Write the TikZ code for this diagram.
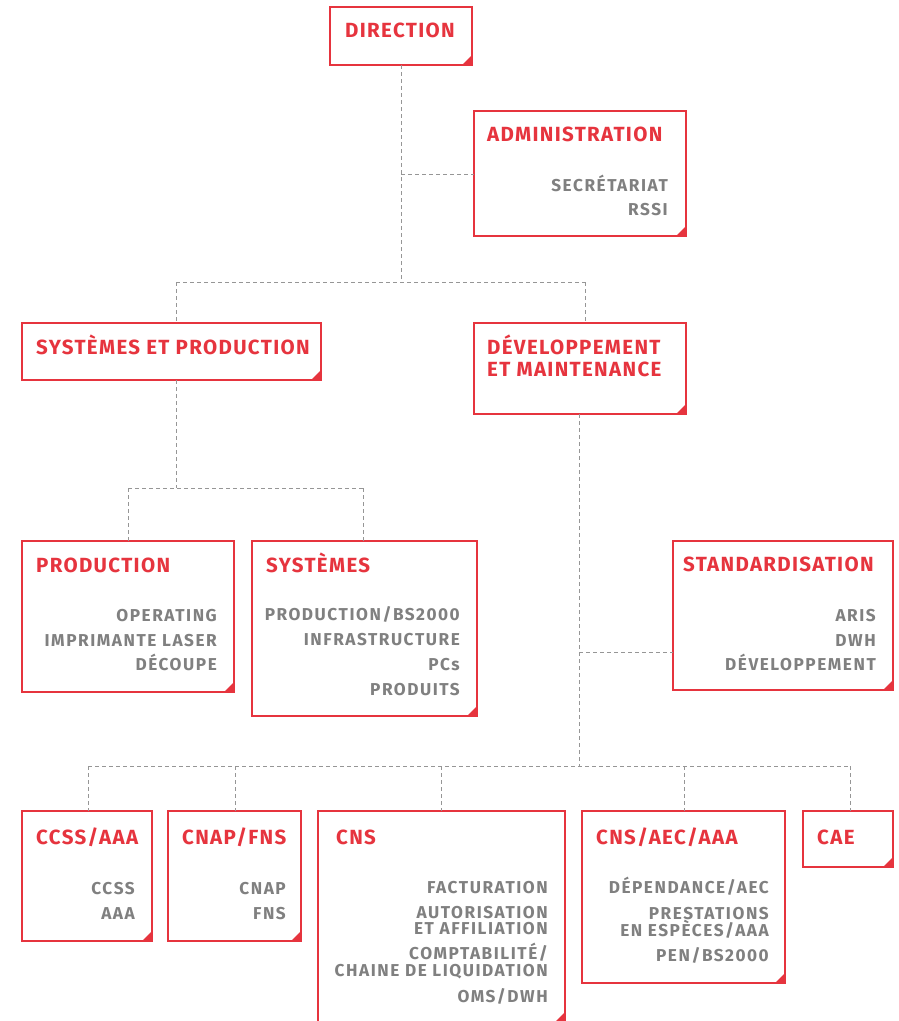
\documentclass[tikz,border=0pt]{standalone}
\usepackage{fontspec}
\setmainfont{Fira Sans}
\newfontfamily\ttlfont[LetterSpace=6.5]{Fira Sans}
\newfontfamily\itmfont[LetterSpace=9]{Fira Sans}
\definecolor{rd}{RGB}{230,52,62}
\definecolor{gt}{RGB}{128,128,128}
\definecolor{ln}{RGB}{150,150,150}
\tikzset{
 box/.style={draw=rd, line width=1.2pt, anchor=north west, inner sep=0pt, outer sep=0pt},
 ttl/.style={anchor=base west, text=rd, font=\ttlfont\bfseries\fontsize{20.5}{20.5}\selectfont, inner sep=0pt},
 itm/.style={anchor=base east, text=gt, font=\itmfont\bfseries\fontsize{17.2}{17.2}\selectfont, inner sep=0pt},
 con/.style={draw=ln, line width=0.9pt, dash pattern=on 4pt off 3pt},
}
\newcommand\boxcorner[1]{\fill[rd] (#1.south east) -- ++(-10,0) -- ++(10,-10) -- cycle;}
\begin{document}
\begin{tikzpicture}[x=1pt,y=-1pt]
\clip (0,0) rectangle (899,1021);
\fill[white] (0,0) rectangle (899,1021);
% boxes
\node[box, minimum width=142pt, minimum height=58pt] (dir) at (330,7) {};
\node[box, minimum width=212pt, minimum height=125pt] (adm) at (474,111) {};
\node[box, minimum width=299pt, minimum height=57pt] (sp) at (22,323) {};
\node[box, minimum width=212pt, minimum height=91pt] (dm) at (474,323) {};
\node[box, minimum width=212pt, minimum height=151pt] (prod) at (22,541) {};
\node[box, minimum width=225pt, minimum height=175pt] (sys) at (252,541) {};
\node[box, minimum width=220pt, minimum height=149pt] (std) at (673,541) {};
\node[box, minimum width=130pt, minimum height=130pt] (ccss) at (22,811) {};
\node[box, minimum width=133pt, minimum height=130pt] (cnap) at (168,811) {};
\node[box, minimum width=247pt, minimum height=211pt] (cns) at (318,811) {};
\node[box, minimum width=203pt, minimum height=172pt] (aec) at (582,811) {};
\node[box, minimum width=90pt, minimum height=56pt] (cae) at (803,811) {};
\foreach \b in {dir,adm,sp,dm,prod,sys,std,ccss,cnap,cns,aec,cae}{\boxcorner{\b}}
% titles
\node[ttl] (tdir) at (345,37) {DIRECTION};
\node[ttl] (tadm) at (487,141) {ADMINISTRATION};
\node[ttl] (tsp) at (36,354) {SYSTÈMES ET PRODUCTION};
\node[ttl] (tdm1) at (487,354) {DÉVELOPPEMENT};
\node[ttl] (tdm2) at (487,376) {ET MAINTENANCE};
\node[ttl] (tprod) at (36,572) {PRODUCTION};
\node[ttl] (tsys) at (266,572) {SYSTÈMES};
\node[ttl] (tstd) at (683,571) {STANDARDISATION};
\node[ttl] (tccss) at (36,844) {CCSS/AAA};
\node[ttl] (tcnap) at (182,844) {CNAP/FNS};
\node[ttl] (tcns) at (336,844) {CNS};
\node[ttl] (taec) at (596,844) {CNS/AEC/AAA};
\node[ttl] (tcae) at (817,844) {CAE};
% items
\node[itm] (a1) at (668,191) {SECRÉTARIAT};
\node[itm] (a2) at (668,215) {RSSI};
\node[itm] (p1) at (217,621) {OPERATING};
\node[itm] (p2) at (217,646) {IMPRIMANTE LASER};
\node[itm] (p3) at (217,670) {DÉCOUPE};
\node[itm] (s1) at (460,620) {PRODUCTION/BS2000};
\node[itm] (s2) at (460,645) {INFRASTRUCTURE};
\node[itm] (s3) at (460,670) {PCs};
\node[itm] (s4) at (460,695) {PRODUITS};
\node[itm] (d1) at (876,621) {ARIS};
\node[itm] (d2) at (876,646) {DWH};
\node[itm] (d3) at (876,670) {DÉVELOPPEMENT};
\node[itm] (c1) at (135,894) {CCSS};
\node[itm] (c2) at (135,919) {AAA};
\node[itm] (n1) at (286,894) {CNAP};
\node[itm] (n2) at (286,919) {FNS};
\node[itm] (k1) at (548,893) {FACTURATION};
\node[itm] (k2) at (548,918) {AUTORISATION};
\node[itm] (k3) at (548,934) {ET AFFILIATION};
\node[itm] (k4) at (548,959) {COMPTABILITÉ/};
\node[itm] (k5) at (548,976) {CHAINE DE LIQUIDATION};
\node[itm] (k6) at (548,1002) {OMS/DWH};
\node[itm] (e1) at (769,893) {DÉPENDANCE/AEC};
\node[itm] (e2) at (769,919) {PRESTATIONS};
\node[itm] (e3) at (769,936) {EN ESPÈCES/AAA};
\node[itm] (e4) at (769,961) {PEN/BS2000};
% junctions
\coordinate (j1) at (401,174);
\coordinate (j2) at (401,282);
\coordinate (j2l) at (176,282);
\coordinate (j2r) at (585,282);
\coordinate (j3) at (176,488);
\coordinate (j3l) at (128,488);
\coordinate (j3r) at (363,488);
\coordinate (j4) at (579,652);
\coordinate (j5) at (579,766);
\coordinate (h1) at (88,766);
\coordinate (h2) at (235,766);
\coordinate (h3) at (441,766);
\coordinate (h4) at (684,766);
\coordinate (h5) at (850,766);
% connectors
\draw[con] (dir.south) -- (j2);
\draw[con] (j1) -- (adm.west |- j1);
\draw[con] (j2l) -- (j2r);
\draw[con] (j2l) -- (sp.north -| j2l);
\draw[con] (j2r) -- (dm.north -| j2r);
\draw[con] (sp.south -| j3) -- (j3);
\draw[con] (j3l) -- (j3r);
\draw[con] (j3l) -- (prod.north -| j3l);
\draw[con] (j3r) -- (sys.north -| j3r);
\draw[con] (dm.south -| j5) -- (j5);
\draw[con] (j4) -- (std.west |- j4);
\draw[con] (h1) -- (h5);
\draw[con] (h1) -- (ccss.north -| h1);
\draw[con] (h2) -- (cnap.north -| h2);
\draw[con] (h3) -- (cns.north -| h3);
\draw[con] (h4) -- (aec.north -| h4);
\draw[con] (h5) -- (cae.north -| h5);
\end{tikzpicture}
\end{document}
